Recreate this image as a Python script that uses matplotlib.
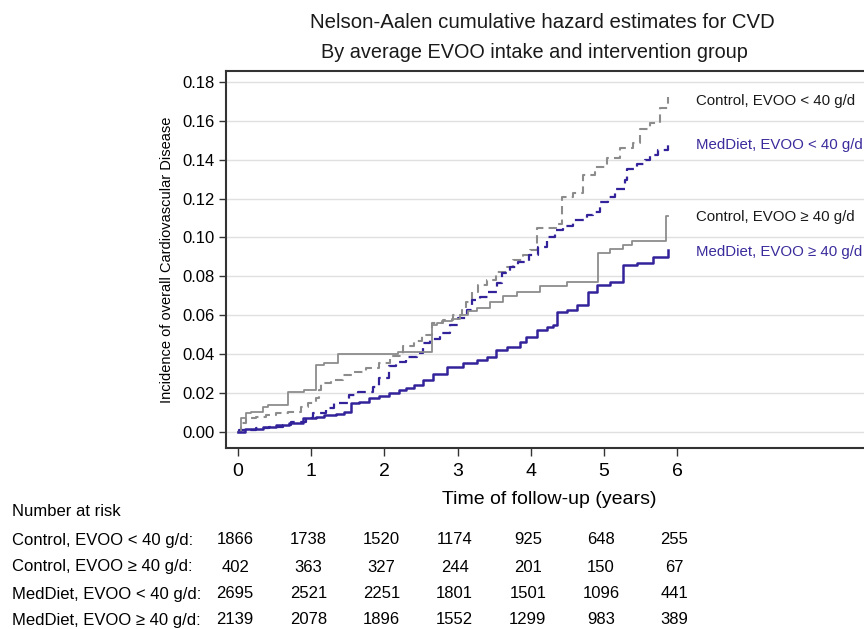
import numpy as np
import matplotlib
matplotlib.use("Agg")
import matplotlib.pyplot as plt
import matplotlib.transforms as mtransforms

plt.rcParams['font.family'] = ['Liberation Sans', 'DejaVu Sans']

# Nelson-Aalen step curves (time in years, cumulative hazard)
t_ctrl_lo = [0, 0.04, 0.11, 0.25, 0.38, 0.52, 0.68, 0.86, 0.95, 1.07, 1.11, 1.13, 1.27, 1.43,
             1.58, 1.75, 1.93, 2.08, 2.26, 2.40, 2.52, 2.65, 2.80, 2.94, 3.06, 3.12, 3.19,
             3.28, 3.40, 3.53, 3.67, 3.76, 3.90, 3.99, 4.08, 4.09, 4.35, 4.42, 4.58, 4.71,
             4.88, 5.04, 5.22, 5.40, 5.49, 5.63, 5.77, 5.88]
h_ctrl_lo = [0, 0.0046, 0.0072, 0.0077, 0.0087, 0.0097, 0.0105, 0.013, 0.015, 0.0175, 0.0216,
             0.025, 0.0267, 0.0293, 0.031, 0.033, 0.0355, 0.039, 0.044, 0.047, 0.050, 0.0559,
             0.0576, 0.0602, 0.0627, 0.067, 0.0721, 0.0756, 0.0781, 0.0824, 0.085, 0.0884,
             0.091, 0.0936, 0.097, 0.1047, 0.107, 0.121, 0.123, 0.132, 0.136, 0.141, 0.146,
             0.1485, 0.156, 0.159, 0.1665, 0.172]

t_med_lo = [0, 0.02, 0.25, 0.42, 0.61, 0.72, 0.93, 1.02, 1.2, 1.31, 1.52, 1.64, 1.84, 1.93,
            2.06, 2.16, 2.30, 2.44, 2.53, 2.62, 2.76, 2.90, 3.01, 3.13, 3.19, 3.30, 3.42,
            3.54, 3.60, 3.72, 3.83, 3.97, 4.10, 4.22, 4.33, 4.44, 4.58, 4.77, 4.85, 4.95,
            5.05, 5.15, 5.29, 5.31, 5.45, 5.56, 5.63, 5.74, 5.88]
h_med_lo = [0, 0.001, 0.002, 0.0027, 0.0036, 0.005, 0.0072, 0.0098, 0.0123, 0.015, 0.019,
            0.0206, 0.023, 0.028, 0.034, 0.036, 0.0385, 0.0405, 0.046, 0.048, 0.051, 0.055,
            0.0585, 0.0627, 0.068, 0.0695, 0.072, 0.0765, 0.082, 0.085, 0.0875, 0.091, 0.095,
            0.100, 0.104, 0.106, 0.109, 0.1115, 0.113, 0.118, 0.121, 0.125, 0.1295, 0.135,
            0.138, 0.140, 0.1425, 0.145, 0.149]

t_ctrl_hi = [0, 0.04, 0.11, 0.18, 0.34, 0.41, 0.68, 0.90, 1.07, 1.18, 1.37, 2.19, 2.65, 2.72,
             2.79, 2.92, 3.03, 3.14, 3.26, 3.44, 3.62, 3.81, 4.13, 4.49, 4.92, 5.08, 5.26,
             5.38, 5.85, 5.87]
h_ctrl_hi = [0, 0.007, 0.0097, 0.0105, 0.013, 0.0139, 0.0206, 0.0216, 0.0345, 0.0355, 0.040,
             0.041, 0.055, 0.056, 0.057, 0.058, 0.060, 0.062, 0.064, 0.067, 0.070, 0.072,
             0.075, 0.077, 0.092, 0.094, 0.096, 0.098, 0.111, 0.111]

t_med_hi = [0, 0.1, 0.34, 0.52, 0.69, 0.89, 1.07, 1.18, 1.34, 1.45, 1.54, 1.65, 1.79, 1.93,
            2.06, 2.2, 2.29, 2.40, 2.53, 2.66, 2.85, 3.08, 3.26, 3.40, 3.53, 3.67, 3.85, 3.94,
            4.08, 4.22, 4.31, 4.36, 4.49, 4.63, 4.78, 4.9, 5.08, 5.26, 5.45, 5.67, 5.88]
h_med_hi = [0, 0.0015, 0.0027, 0.0036, 0.0046, 0.0072, 0.0077, 0.0087, 0.0093, 0.0103, 0.015,
            0.0155, 0.0175, 0.0185, 0.020, 0.0216, 0.0226, 0.024, 0.0267, 0.030, 0.0334,
            0.0354, 0.037, 0.0386, 0.042, 0.0437, 0.0463, 0.0488, 0.0524, 0.054, 0.055,
            0.0617, 0.0627, 0.0653, 0.072, 0.0755, 0.077, 0.086, 0.087, 0.090, 0.0935]

groups = ["Control, EVOO < 40 g/d", "Control, EVOO \u2265 40 g/d",
          "MedDiet, EVOO < 40 g/d", "MedDiet, EVOO \u2265 40 g/d"]
label_y = [0.170, 0.1105, 0.1476, 0.0925]

risk_times = [0, 1, 2, 3, 4, 5, 6]
at_risk = [
    [1866, 1738, 1520, 1174, 925, 648, 255],
    [402, 363, 327, 244, 201, 150, 67],
    [2695, 2521, 2251, 1801, 1501, 1096, 441],
    [2139, 2078, 1896, 1552, 1299, 983, 389],
]

gray = '#8c8c8c'
blue = '#33239a'
W, H = 864, 629

fig = plt.figure(figsize=(8.64, 6.29), dpi=100)
ax = fig.add_axes([226/W, (H-448)/H, (872-226)/W, (448-71)/H])

ax.plot(t_ctrl_lo, h_ctrl_lo, drawstyle='steps-post', color=gray, lw=1.5, ls=(0, (4, 2.5)))
ax.plot(t_med_lo, h_med_lo, drawstyle='steps-post', color=blue, lw=1.6, ls=(0, (4, 2.5)))
ax.plot(t_ctrl_hi, h_ctrl_hi, drawstyle='steps-post', color=gray, lw=1.3)
ax.plot(t_med_hi, h_med_hi, drawstyle='steps-post', color=blue, lw=1.8)

colors = [gray, gray, blue, blue]
for name, yy, c in zip(groups, label_y, colors):
    tc = '#1a1a1a' if c == gray else '#3a2c9c'
    ax.text(6.25, yy, name, color=tc, fontsize=10.8, va='center', ha='left')

ax.set_xlim(-12/73.2, (872-238)/73.2)
ax.set_ylim(-16/1945, (432-71)/1945)
ax.set_xticks(risk_times)
ax.set_yticks(np.arange(0, 0.181, 0.02))
ax.set_yticklabels(["%.2f" % v for v in np.arange(0, 0.181, 0.02)])
ax.tick_params(axis='y', labelsize=12, length=5, width=1, color='#333333', pad=3)
ax.tick_params(axis='x', labelsize=14, length=6, width=1, color='#333333', pad=5)
ax.grid(axis='y', color='#e0e0e0', lw=1)
ax.set_axisbelow(True)
for s in ax.spines.values():
    s.set_color('#333333')
    s.set_linewidth(1.5)

ax.set_ylabel("Incidence of overall Cardiovascular Disease", fontsize=10.5, labelpad=6)
ax.set_xlabel("Time of follow-up (years)", fontsize=14, labelpad=8)

fig.text(542/W, 1-22/H, "Nelson-Aalen cumulative hazard estimates for CVD",
         fontsize=14.7, ha='center', va='center', color='#1a1a1a')
fig.text(534/W, 1-52/H, "By average EVOO intake and intervention group",
         fontsize=14.3, ha='center', va='center', color='#1a1a1a')

# number-at-risk table below the axis
trans = mtransforms.blended_transform_factory(ax.transData, fig.transFigure)
fig.text(12/W, 1-512/H, "Number at risk", fontsize=12, va='center', ha='left')
row_y = [540, 567, 594, 620]
for name, counts, ry in zip(groups, at_risk, row_y):
    fig.text(12/W, 1-ry/H, name + ":", fontsize=12, va='center', ha='left')
    for tt, n in zip(risk_times, counts):
        ax.text(tt - 0.04, 1-ry/H, str(n), transform=trans, fontsize=12,
                va='center', ha='center', clip_on=False)

fig.savefig("out.png", dpi=100)
